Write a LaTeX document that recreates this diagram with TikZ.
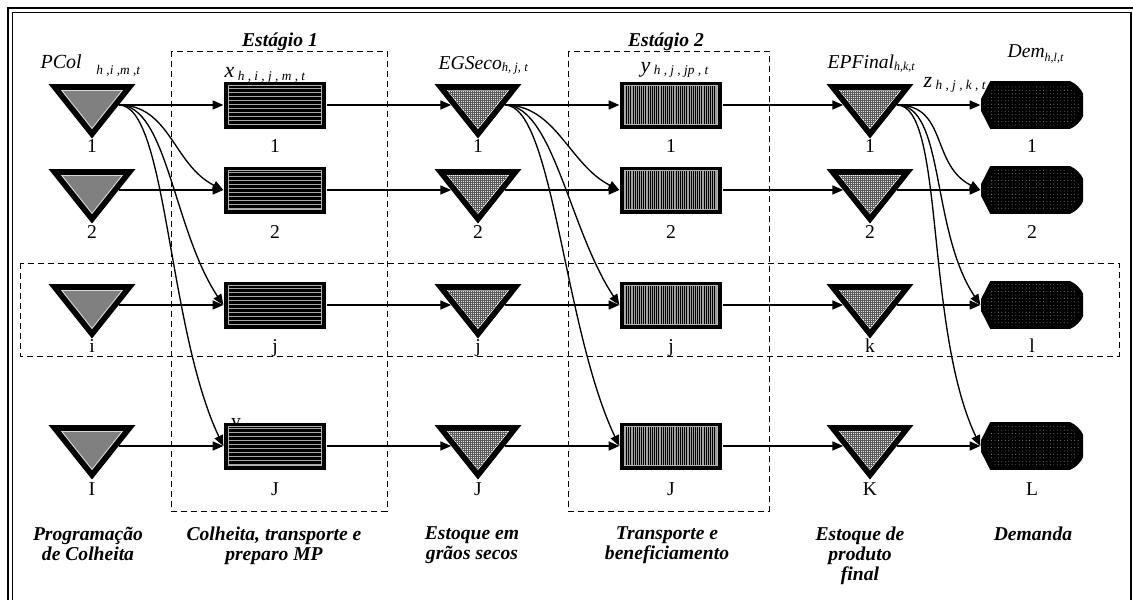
\documentclass[tikz,border=0pt]{standalone}
\usepackage{fontspec}
\setmainfont{Liberation Serif}
\usetikzlibrary{arrows.meta,shapes.geometric,patterns.meta,calc}

\newcommand{\innertri}[1]{%
  \coordinate (tA) at (path picture bounding box.north west);
  \coordinate (tB) at (path picture bounding box.north east);
  \coordinate (tC) at (path picture bounding box.south);
  \coordinate (tI) at ($(path picture bounding box.north)!0.387!(tC)$);
  \path[#1] ($(tI)!0.72!(tA)$) -- ($(tI)!0.72!(tB)$) -- ($(tI)!0.72!(tC)$) -- cycle;
}
\newcommand{\demoutline}[1]{%
  \path[#1] (path picture bounding box.west)
    -- ([xshift=9pt]path picture bounding box.north west)
    -- ([xshift=-17.6pt]path picture bounding box.north east)
    arc[start angle=90, end angle=-90, radius=17.6pt]
    -- ([xshift=9pt]path picture bounding box.south west) -- cycle;
}

\tikzset{
  big/.style={font=\fontsize{14.7}{15}\selectfont},
  num/.style={big, anchor=base, inner sep=0pt},
  hdr/.style={big, anchor=base west, inner sep=0pt},
  capt/.style={font=\fontsize{14.7}{15}\selectfont\bfseries\itshape, align=center, inner sep=0pt},
  tri/.style={isosceles triangle, isosceles triangle stretches, shape border rotate=-90,
    minimum width=63pt, minimum height=39.5pt, inner sep=0pt, fill=black, draw=black,
    line width=1pt, line join=miter},
  ptri/.style={tri, path picture={\innertri{fill=gray, draw=gray!30, line width=0.7pt}}},
  etri/.style={tri, path picture={\innertri{fill=gray!20, draw=white, line width=0.6pt}%
    \innertri{pattern={Hatch[angle=0,distance=1.5pt,line width=0.35pt]}, pattern color=black!65}}},
  xbox/.style={rectangle, fill=black, minimum width=76.5pt, minimum height=35.25pt, inner sep=0pt,
    path picture={\path[draw=gray!60, line width=0.4pt,
      pattern={Lines[angle=0,distance=3pt,line width=0.7pt]}, pattern color=gray!70]
      ([shift={(3.5pt,-3pt)}]path picture bounding box.north west)
      rectangle ([shift={(-3.5pt,3pt)}]path picture bounding box.south east);}},
  ybox/.style={rectangle, fill=black, minimum width=76.5pt, minimum height=35.25pt, inner sep=0pt,
    path picture={\path[draw=gray!60, line width=0.4pt,
      pattern={Lines[angle=90,distance=1.4pt,line width=0.5pt]}, pattern color=gray!75]
      ([shift={(3.5pt,-3pt)}]path picture bounding box.north west)
      rectangle ([shift={(-3.5pt,3pt)}]path picture bounding box.south east);}},
  dem/.style={rectangle, minimum width=76.5pt, minimum height=35.25pt, inner sep=0pt,
    path picture={\demoutline{fill=black}%
      \demoutline{pattern={Dots[distance=2.6pt,radius=0.3pt]}, pattern color=gray!60}%
      \demoutline{draw=black, line width=4pt}}},
  dbox/.style={dash pattern=on 4.5pt off 3pt, line width=0.6pt}
}

\begin{document}
\begin{tikzpicture}[x=0.75pt,y=0.75pt,line width=1pt,>={Triangle[length=8pt,width=6.8pt]}]
  \useasboundingbox (0,0) rectangle (1133,-600);

  \draw[line width=1.3pt] (8,-600) -- (8,-8) -- (1133,-8);
  \draw[line width=0.7pt] (12,-600) -- (12,-12) -- (1131,-12);
  \draw[line width=1.1pt] (1131,-12) -- (1131,-600);

  \draw[dbox] (171,-51) rectangle (387,-511);
  \draw[dbox] (568,-51) rectangle (769,-511);
  \draw[dbox] (20,-263) rectangle (1119,-356);

  \node[capt, anchor=base] (st1) at (280,-46) {Estágio 1};
  \node[capt, anchor=base] (st2) at (666,-46) {Estágio 2};

  \node[hdr, font=\fontsize{15}{15}\selectfont] (hp) at (40,-68)
    {\textit{PCol}\hspace{11pt}\raisebox{-4.5pt}{\fontsize{10}{10}\selectfont\textit{h ,i ,m ,t}}};
  \node[hdr, font=\fontsize{16.5}{16}\selectfont] (hx) at (224,-77)
    {\textit{x}\raisebox{-2.5pt}{\fontsize{10}{10}\selectfont\textit{ h , i , j , m , t}}};
  \node[hdr] (he) at (438,-69)
    {\textit{EGSeco}\raisebox{-2pt}{\fontsize{9.5}{10}\selectfont\textit{h, j, t}}};
  \node[hdr, font=\fontsize{16.5}{16}\selectfont] (hy) at (640,-72)
    {\textit{y}\raisebox{-1.5pt}{\fontsize{10}{10}\selectfont\textit{ h , j , jp , t}}};
  \node[hdr] (hf) at (827,-68)
    {\textit{EPFinal}\raisebox{-2pt}{\fontsize{9}{10}\selectfont\textit{h,k,t}}};
  \node[hdr, font=\fontsize{16.5}{16}\selectfont] (hz) at (923,-87)
    {\textit{z}\raisebox{-1.5pt}{\fontsize{10}{10}\selectfont\textit{ h , j , k , t}}};
  \node[hdr] (hd) at (1007,-57)
    {\textit{Dem}\raisebox{-3pt}{\fontsize{9}{10}\selectfont\textit{h,l,t}}};

  \node[num] (ystray) at (236,-427) {y};

  \foreach \n/\y/\ly/\i/\j/\k/\l in {1/105/152/1/1/1/1, 2/190/238/2/2/2/2, 3/305/352/i/j/k/l, 4/446/495/I/J/K/L}{
    \node[ptri] (p\n) at (92,-\y) {};
    \node[xbox] (x\n) at (275,-\y) {};
    \node[etri] (e\n) at (478,-\y) {};
    \node[ybox] (y\n) at (671,-\y) {};
    \node[etri] (f\n) at (870,-\y) {};
    \node[dem] (d\n) at (1032,-\y) {};
    \node[num] (lp\n) at (92,-\ly) {\i};
    \node[num] (lx\n) at (275,-\ly) {\j};
    \node[num] (le\n) at (478,-\ly) {\j};
    \node[num] (ly\n) at (671,-\ly) {\j};
    \node[num] (lf\n) at (870,-\ly) {\k};
    \node[num] (ld\n) at (1032,-\ly) {\l};
    \path[->] (p\n) edge (x\n) (x\n) edge (e\n) (e\n) edge (y\n)
      (y\n) edge (f\n) (f\n) edge (d\n);
  }

  \foreach \s/\t in {p/x, e/y, f/d}{
    \draw[->] (\s1) .. controls +(78,0) and +(-50,25) .. (\t2.west);
    \draw[->] (\s1) .. controls +(75,0) and +(-50,75) .. (\t3.west);
    \draw[->] (\s1) .. controls +(75,0) and +(-56,118) .. (\t4.west);
  }

  \node[capt, anchor=north] (cp) at (88,-526) {Programação\\de Colheita};
  \node[capt, anchor=north] (cx) at (274,-526) {Colheita, transporte e\\preparo MP};
  \node[capt, anchor=north] (ce) at (472,-526) {Estoque em\\grãos secos};
  \node[capt, anchor=north] (cy) at (667,-526) {Transporte e\\beneficiamento};
  \node[capt, anchor=north] (cf) at (860,-526) {Estoque de\\produto\\final};
  \node[capt, anchor=north] (cd) at (1033,-526) {Demanda};
\end{tikzpicture}
\end{document}
